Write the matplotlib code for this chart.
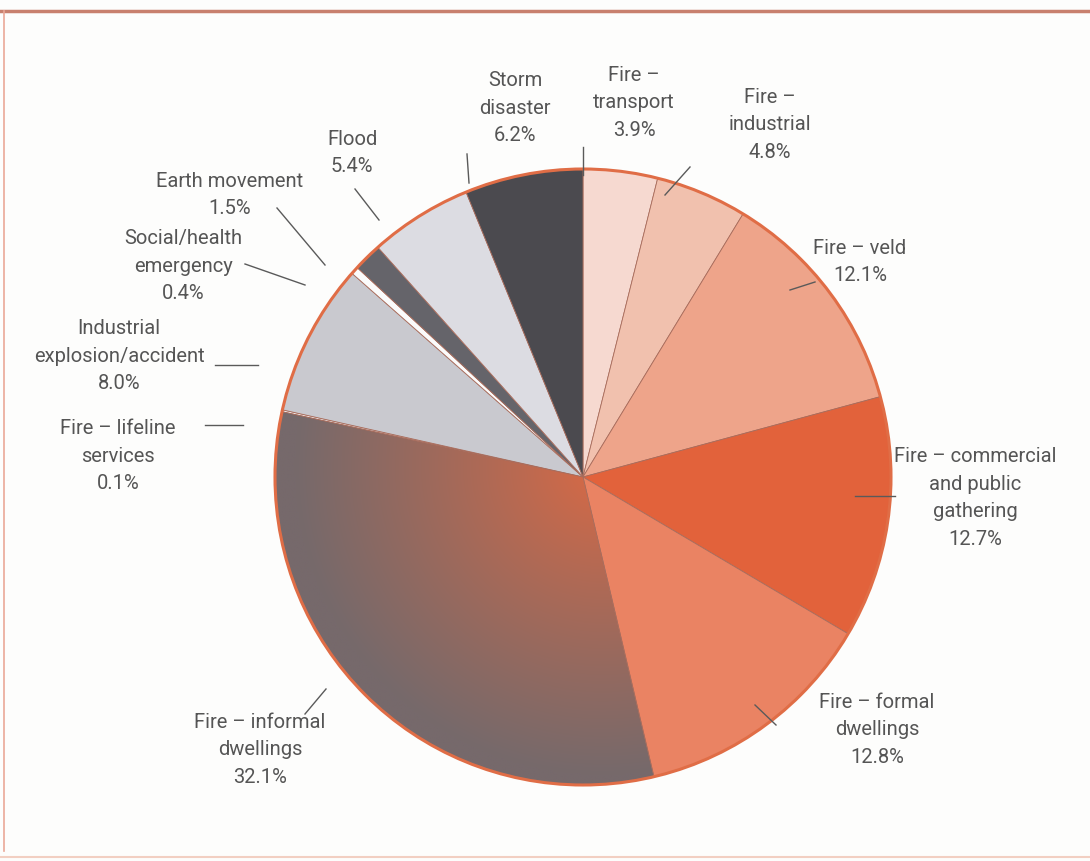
import matplotlib.pyplot as plt
from matplotlib.patches import Circle
import numpy as np

W, H = 1090, 862

# share of incidents, clockwise from 12 o'clock
categories = ["Fire \u2013 transport", "Fire \u2013 industrial", "Fire \u2013 veld",
              "Fire \u2013 commercial and public gathering", "Fire \u2013 formal dwellings",
              "Fire \u2013 informal dwellings", "Fire \u2013 lifeline services",
              "Industrial explosion/accident", "Social/health emergency",
              "Earth movement", "Flood", "Storm disaster"]
shares = [3.9, 4.8, 12.1, 12.7, 12.8, 32.1, 0.1, 8.0, 0.4, 1.5, 5.4, 6.2]
label_text = ["Fire \u2013\ntransport", "Fire \u2013\nindustrial", "Fire \u2013 veld",
              "Fire \u2013 commercial\nand public\ngathering", "Fire \u2013 formal\ndwellings",
              "Fire \u2013 informal\ndwellings", "Fire \u2013 lifeline\nservices",
              "Industrial\nexplosion/accident", "Social/health\nemergency",
              "Earth movement", "Flood", "Storm\ndisaster"]

colors = ["#f6d9d0", "#f1c1ae", "#eea48a", "#e2623b", "#ea8363", "#b06a55",
          "#f4eeee", "#c9c9cf", "#fbfbfb", "#65646a", "#dcdce2", "#4b4a4f"]

# label centres and leader lines, in pixel coords (y down)
label_pos = [(634, 103), (770, 125), (860, 262), (975, 498), (877, 730),
             (260, 750), (118, 456), (119, 356), (183, 266), (230, 195),
             (352, 153), (515, 108)]
leaders = [((583, 148), (583, 176)), ((690, 168), (665, 196)),
           ((815, 283), (790, 291)), ((855, 497), (895, 497)),
           ((755, 706), (776, 726)), ((326, 690), (305, 715)),
           ((205, 426), (243, 426)), ((215, 366), (258, 366)),
           ((245, 265), (305, 286)), ((277, 209), (325, 266)),
           ((355, 190), (379, 221)), ((467, 155), (469, 184))]


def px(x, y):
    return x, H - y


cx, cy = px(583, 478)
R = 308

fig = plt.figure(figsize=(W / 100, H / 100), dpi=100)
fig.patch.set_facecolor("#fdfdfc")
ax = fig.add_axes([0, 0, 1, 1])
ax.set_facecolor("#fdfdfc")

wedges, _ = ax.pie(shares, colors=colors, startangle=90, counterclock=False,
                   center=(cx, cy), radius=R, frame=True,
                   wedgeprops=dict(edgecolor="#a86c5c", linewidth=0.6))

# informal dwellings: orange at the hub fading to warm grey at the rim
yy, xx = np.mgrid[cy - R:cy + R:400j, cx - R:cx + R:400j]
t = np.clip(np.hypot(xx - cx - 20, yy - cy - 10) / R, 0, 1) ** 0.85
c0 = np.array([0xdc, 0x6a, 0x44]) / 255
c1 = np.array([0x76, 0x69, 0x6b]) / 255
img = c0 + (c1 - c0) * t[..., None]
im = ax.imshow(img, extent=(cx - R, cx + R, cy - R, cy + R), origin="lower",
               interpolation="bilinear", zorder=1.5)
im.set_clip_path(wedges[5])
wedges[5].set_zorder(1.6)
wedges[5].set_facecolor("none")

ax.add_patch(Circle((cx, cy), R, fill=False, edgecolor="#e06d46", linewidth=2.2, zorder=3))

for name, pct, (lx, ly), (p0, p1) in zip(label_text, shares, label_pos, leaders):
    ax.text(*px(lx, ly), f"{name}\n{pct:.1f}%", ha="center", va="center",
            multialignment="center", fontsize=14.5, family="Roboto",
            color="#555555", linespacing=1.58, zorder=4)
    ax.plot(*zip(px(*p0), px(*p1)), color="#5a5a5a", linewidth=1.0, zorder=4)

# page frame
ax.plot([0, W], [H - 12, H - 12], color="#c8806e", linewidth=2.5, zorder=5)
ax.plot([4, 4], [H - 12, 10], color="#eaa898", linewidth=1.2, zorder=5)
ax.plot([0, W], [4, 4], color="#f2cfc2", linewidth=1.5, zorder=5)

ax.set_xlim(0, W)
ax.set_ylim(0, H)
ax.set_aspect("equal")
ax.axis("off")

fig.savefig("out.png", dpi=100, facecolor=fig.get_facecolor())
